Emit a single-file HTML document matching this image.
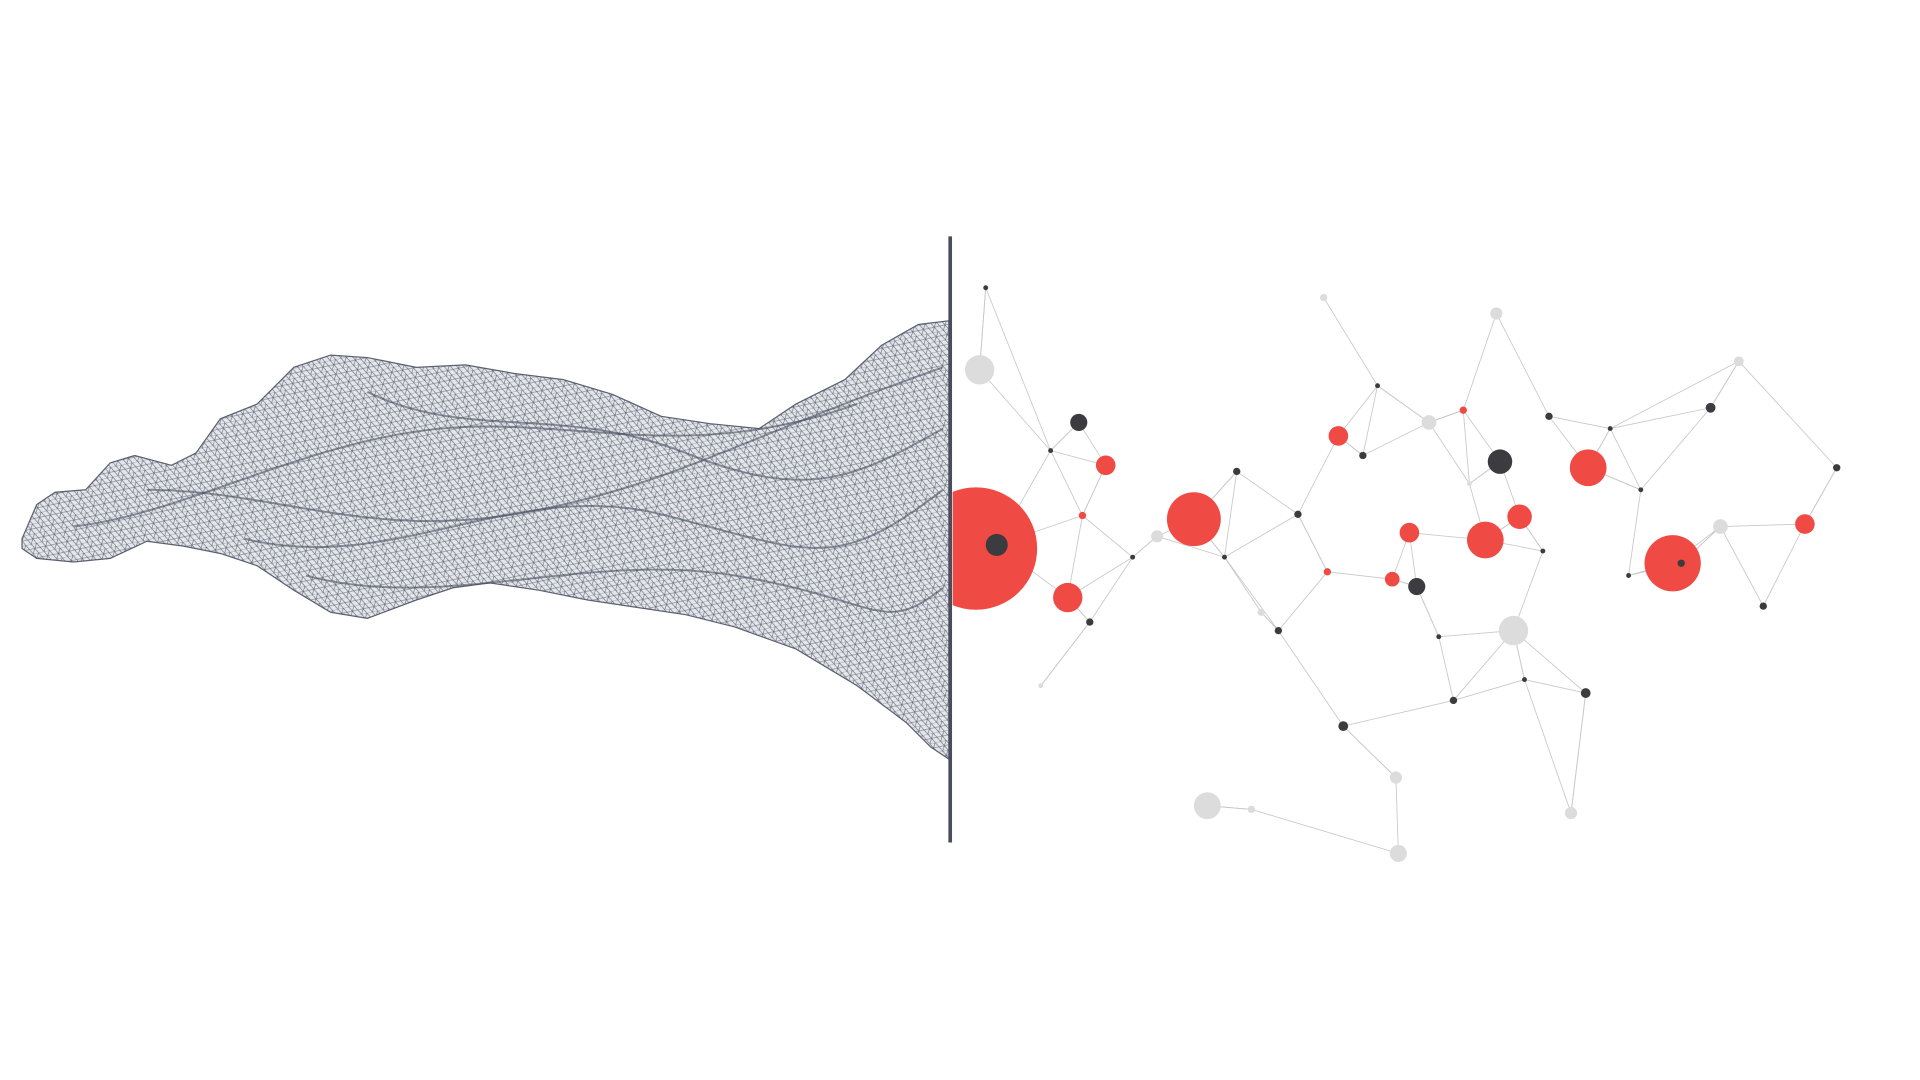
<!DOCTYPE html>
<html><head><meta charset="utf-8"><title>Wireframe to network</title>
<style>
html,body{margin:0;padding:0;background:#fff;width:1920px;height:1080px;overflow:hidden}
svg{display:block}
</style></head>
<body>
<svg id="art" width="1920" height="1080" viewBox="0 0 1568 882" xmlns="http://www.w3.org/2000/svg">
<defs>
<pattern id="mesh" width="9" height="8" patternUnits="userSpaceOnUse" patternTransform="rotate(-12)">
<path d="M0 0H9M0 4H9M0 0L4.5 8M4.5 0L9 8M9 0L4.5 8" stroke="#5a6070" stroke-width="0.45" fill="none"/>
</pattern>
<clipPath id="rightClip"><rect x="778" y="0" width="800" height="882"/></clipPath>
</defs>
<g id="wave"></g>
<g id="edges"></g>
<g id="nodes" clip-path="url(#rightClip)"></g>
<line x1="776" y1="193" x2="776" y2="688" stroke="#4a4e5c" stroke-width="3"/>
</svg>
<script>
const waveTop=[[18,440],[30,412],[45,402],[70,400],[90,378],[110,372],[140,380],[160,370],[180,342],[210,330],[240,300],[270,290],[300,292],[340,300],[380,298],[420,305],[460,310],[500,322],[540,340],[580,346],[620,350],[650,330],[690,310],[720,282],[750,265],[775,262]];
const waveBottom=[[775,620],[760,610],[740,590],[700,560],[650,530],[600,512],[560,502],[520,496],[480,490],[440,482],[400,476],[370,480],[340,490],[300,505],[270,500],[240,482],[210,462],[180,452],[150,446],[120,442],[90,456],[60,459],[30,456],[18,448]];
const folds=["M60 430 C150 420 250 360 360 350 S560 380 700 330","M120 400 C220 400 300 440 420 420 S600 360 770 300","M200 440 C320 470 420 390 540 420 S680 470 770 400","M250 470 C360 500 480 450 600 470 S720 520 770 480","M300 320 C380 360 460 330 560 370 S700 390 770 350"];
const nodeX=[797,814,975,872,903,1093,1151,1137,1213,1241,1297,1366,1474,1195,884,1084,881,1225,1157,1397,1373,1295,1097,1187,890,1044,1113,800,986,1142,1236,1283,1167,1222,1420,1405,945,1140,1081,1022,805,858,1010,1060,1125,1175,1265,1330,1500,1440,1340,1245,1030,1200,1260,1315,850,925,1000];
const nodeY=[448,445,424,488,380,356,435,473,441,422,382,460,428,335,421,467,345,377,479,333,460,566,593,572,508,515,372,302,658,697,515,664,345,256,295,430,438,635,243,661,235,368,385,420,315,520,340,470,382,495,400,555,500,395,450,350,560,455,455];
const nodeR=[50,9,22,12,8,8,8,6,15,10,15,23,8,3,3,3,7,10,7,4,3,4,4,3,3,3,3,12,11,7,12,5,6,5,4,6,5,5,3,3,2,2,3,3,2,2,3,2,3,3,2,2,3,2,2,2,2,2,2];
const nodeKind=["r","d","r","r","r","r","r","r","r","r","r","r","r","r","r","r","d","d","d","d","d","d","d","d","d","d","d","l","l","l","l","l","l","l","l","l","l","l","l","l","d","d","d","d","d","d","d","d","d","d","d","d","l","l","d","d","l","d","d"];
const colors={r:"#ef4a43",d:"#3c3c40",l:"#dcdcdc"};
const NS="http://www.w3.org/2000/svg";
const wave=document.getElementById('wave');
const pts=waveTop.concat(waveBottom).map(p=>p.join(',')).join(' ');
const base=document.createElementNS(NS,'polygon');
base.setAttribute('points',pts);base.setAttribute('fill','#e4e6ea');


wave.appendChild(base);
const m1=document.createElementNS(NS,'polygon');
m1.setAttribute('points',pts);m1.setAttribute('fill','url(#mesh)');m1.setAttribute('stroke','#5a6070');m1.setAttribute('stroke-width','1');


wave.appendChild(m1);
folds.forEach(d=>{
  const p=document.createElementNS(NS,'path');
  p.setAttribute('d',d);p.setAttribute('fill','none');p.setAttribute('stroke','#4a5060');p.setAttribute('stroke-width','1.6');p.setAttribute('opacity','0.6');
  
  
  wave.appendChild(p);
});
const edges=document.getElementById('edges');
const n=nodeX.length;
for(let i=1;i<n;i++){
  const d=[];for(let j=1;j<n;j++){if(j!==i)d.push([Math.hypot(nodeX[i]-nodeX[j],nodeY[i]-nodeY[j]),j]);}
  d.sort((a,b)=>a[0]-b[0]);
  for(let k=0;k<3;k++){const j=d[k][1];if(j<i&&k>0)continue;
    const l=document.createElementNS(NS,'line');
    l.setAttribute('x1',nodeX[i]);l.setAttribute('y1',nodeY[i]);l.setAttribute('x2',nodeX[j]);l.setAttribute('y2',nodeY[j]);
    l.setAttribute('stroke','#c8c8c8');l.setAttribute('stroke-width','0.7');
    
    
    edges.appendChild(l);}
}
const nodes=document.getElementById('nodes');
const order=[...Array(n).keys()].sort((a,b)=>nodeR[b]-nodeR[a]);
order.forEach(i=>{
  const c=document.createElementNS(NS,'circle');
  c.setAttribute('cx',nodeX[i]);c.setAttribute('cy',nodeY[i]);c.setAttribute('r',nodeR[i]);
  c.setAttribute('fill',colors[nodeKind[i]]);
  
  
  nodes.appendChild(c);
});
</script>
</body></html>
